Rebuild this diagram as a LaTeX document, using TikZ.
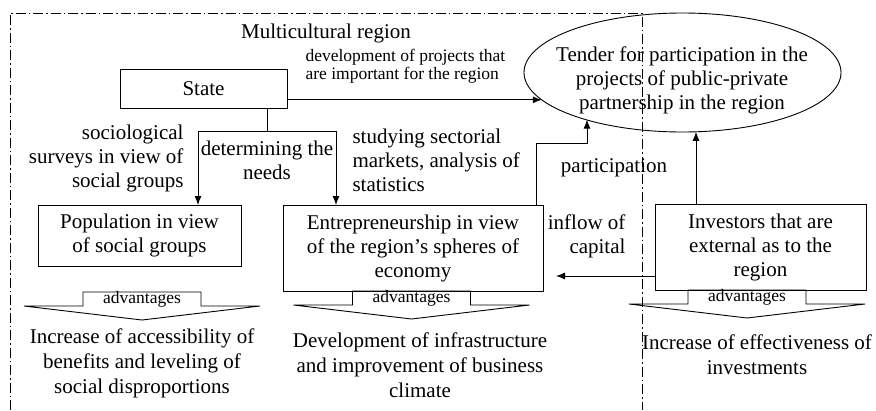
\documentclass[tikz,border=0pt]{standalone}
\usepackage{fontspec}
\setmainfont{Liberation Serif}
\usetikzlibrary{arrows.meta,positioning,shapes.geometric,calc}

\begin{document}
\begin{tikzpicture}[x=1pt, y=-1pt,
    big/.style={font=\fontsize{21}{24}\selectfont},
    small/.style={font=\fontsize{17.5}{18.5}\selectfont},
    result/.style={font=\fontsize{21}{25}\selectfont, align=center},
    box/.style={draw, line width=0.9pt, big, align=center, inner sep=0pt, outer sep=0pt},
    flow/.style={line width=0.9pt, -{Latex[length=9pt,width=7pt]}},
    region/.style={line width=0.8pt, dash pattern=on 10pt off 3pt on 1.5pt off 3pt}]
    \useasboundingbox (0,0) rectangle (876,410);

    % Borders of the region
    \draw[region] (10,410) -- (10,13) -- (642,13) -- (642,410);
    \node[big] (title) at (326,33) {Multicultural region};

    % Tender in the ellipse
    \node[draw, ellipse, line width=0.9pt, minimum width=317pt, minimum height=119pt,
          inner sep=0pt, outer sep=0pt] (tender) at (682.5,72.5) {};
    \node[big, align=center] (tendertxt) at (682,80)
         {Tender for participation in the\\projects of public-private\\partnership in the region};

    % Boxes
    \node[box, minimum width=167pt, minimum height=39pt] (state) at (203.5,88.5) {State};
    \node[box, minimum width=203pt, minimum height=61pt] (pop) at (139.5,235.5)
         {Population in view\\of social groups};
    \node[box, minimum width=260pt, minimum height=86pt] (ent) at (413,248)
         {Entrepreneurship in view\\of the region’s spheres of\\economy};
    \node[box, minimum width=211pt, minimum height=86pt] (inv) at (760.5,247)
         {Investors that are\\external as to the\\region};

    % State to tender
    \draw[flow] (state.east |- tender.191.6) -- (tender.191.6);
    \node[small, align=left, anchor=west] (devlbl) at (302,66)
         {development of projects that\\are important for the region};

    % State to population and entrepreneurship
    \coordinate (fork) at (267,131);
    \coordinate (forkL) at (198,131);
    \coordinate (forkR) at (336,131);
    \draw[line width=0.9pt] (state.south -| fork) -- (fork);
    \draw[line width=0.9pt] (forkL) -- (forkR);
    \draw[flow] (forkL) -- (forkL |- pop.north);
    \draw[flow] (forkR) -- (forkR |- ent.north);
    \node[big, align=right, anchor=east] (surveylbl) at (187,158)
         {sociological\\surveys in view of\\social groups};
    \node[big, align=center] (needslbl) at (267,160) {determining the\\needs};
    \node[big, align=left, anchor=west] (marketlbl) at (349,160)
         {studying sectorial\\markets, analysis of\\statistics};

    % Participation
    \coordinate (p1) at (536,143);
    \coordinate (p2) at (587,143);
    \draw[flow] (p1 |- ent.north) -- (p1) -- (p2) -- (p2 |- tender.206.5);
    \node[big] (partlbl) at (614,168) {participation};

    % Investors to tender
    \coordinate (q) at (696,0);
    \draw[flow] (q |- inv.north) -- (q |- tender.282.8);

    % Inflow of capital
    \coordinate (c) at (0,276);
    \draw[flow, shorten >=13pt] (inv.west |- c) -- (ent.east |- c);
    \node[big, align=right, anchor=east] (inflowlbl) at (629,236) {inflow of\\capital};

    % Advantages
    \foreach \cx/\ty/\nm in {142/292/popgain, 411.5/291/entgain, 747/290/invgain} {
        \draw[line width=0.9pt] (\cx-118,\ty+14) -- (\cx-59,\ty+14) -- (\cx-59,\ty)
            -- (\cx+59,\ty) -- (\cx+59,\ty+14) -- (\cx+118,\ty+14) -- (\cx,\ty+28) -- cycle;
        \node[small] (\nm) at (\cx,\ty+7) {advantages};
    }

    % Results
    \node[result] (popres) at (142,363)
         {Increase of accessibility of\\benefits and leveling of\\social disproportions};
    \node[result] (entres) at (420,365)
         {Development of infrastructure\\and improvement of business\\climate};
    \node[result] (invres) at (757,355)
         {Increase of effectiveness of\\investments};
\end{tikzpicture}
\end{document}
